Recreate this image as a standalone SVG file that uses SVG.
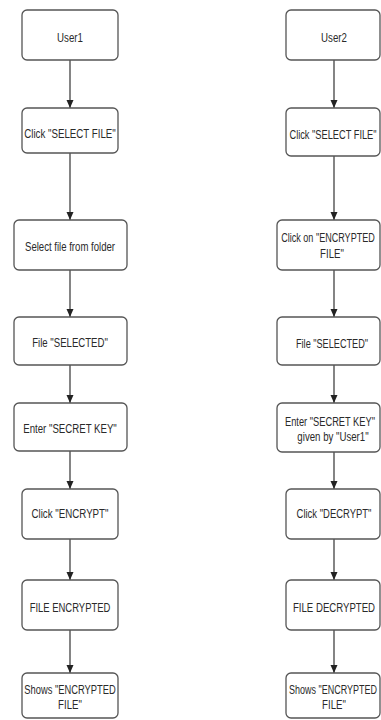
<svg xmlns="http://www.w3.org/2000/svg" width="381" height="720" viewBox="0 0 381 720">
<style>
.box{fill:#fff;stroke:#555;stroke-width:1.3}
.t{font-family:"Liberation Sans",Arial,sans-serif;font-size:13px;fill:#2a2a2a;text-anchor:middle}
.c{stroke:#333;stroke-width:1.2;fill:none;marker-end:url(#ah)}
</style>
<defs>
<marker id="ah" markerUnits="userSpaceOnUse" markerWidth="8" markerHeight="8" refX="8" refY="3.5" orient="auto">
<path d="M0,0 L8,3.5 L0,7 z" fill="#222"/>
</marker>
</defs>
<rect width="381" height="720" fill="#fff"/>
<g id="connectors">
<line class="c" x1="70" y1="60" x2="70" y2="108"/>
<line class="c" x1="70" y1="153" x2="70" y2="220"/>
<line class="c" x1="70" y1="270" x2="70" y2="317"/>
<line class="c" x1="70" y1="365" x2="70" y2="403"/>
<line class="c" x1="70" y1="451" x2="70" y2="489"/>
<line class="c" x1="70" y1="539" x2="70" y2="580"/>
<line class="c" x1="70" y1="630" x2="70" y2="673"/>
<line class="c" x1="334" y1="60" x2="334" y2="108"/>
<line class="c" x1="334" y1="156" x2="334" y2="220"/>
<line class="c" x1="334" y1="270" x2="334" y2="317"/>
<line class="c" x1="334" y1="365" x2="334" y2="403"/>
<line class="c" x1="334" y1="452" x2="334" y2="489"/>
<line class="c" x1="334" y1="539" x2="334" y2="580"/>
<line class="c" x1="334" y1="630" x2="334" y2="673"/>
</g>
<g id="n_user1"><rect class="box" x="22" y="10" width="96" height="50" rx="5"/><text class="t" transform="translate(70,42) scale(0.72,1)" textLength="36" lengthAdjust="spacingAndGlyphs">User1</text></g>
<g id="n_l_select"><rect class="box" x="22" y="108" width="96" height="45" rx="5"/><text class="t" transform="translate(70,138) scale(0.72,1)" textLength="127" lengthAdjust="spacingAndGlyphs">Click "SELECT FILE"</text></g>
<g id="n_l_folder"><rect class="box" x="14" y="220" width="113" height="50" rx="5"/><text class="t" transform="translate(70,251) scale(0.72,1)" textLength="125" lengthAdjust="spacingAndGlyphs">Select file from folder</text></g>
<g id="n_l_selected"><rect class="box" x="14" y="317" width="113" height="48" rx="5"/><text class="t" transform="translate(70,347) scale(0.72,1)" textLength="105" lengthAdjust="spacingAndGlyphs">File "SELECTED"</text></g>
<g id="n_l_key"><rect class="box" x="14" y="403" width="113" height="48" rx="5"/><text class="t" transform="translate(70,433) scale(0.72,1)" textLength="130" lengthAdjust="spacingAndGlyphs">Enter "SECRET KEY"</text></g>
<g id="n_l_encrypt"><rect class="box" x="22" y="489" width="96" height="50" rx="5"/><text class="t" transform="translate(70,518) scale(0.72,1)" textLength="107" lengthAdjust="spacingAndGlyphs">Click "ENCRYPT"</text></g>
<g id="n_l_encrypted"><rect class="box" x="22" y="580" width="96" height="50" rx="5"/><text class="t" transform="translate(70,612) scale(0.72,1)" textLength="112" lengthAdjust="spacingAndGlyphs">FILE ENCRYPTED</text></g>
<g id="n_l_shows"><rect class="box" x="22" y="673" width="96" height="45" rx="5"/><text class="t" transform="translate(70,694) scale(0.72,1)" textLength="127" lengthAdjust="spacingAndGlyphs">Shows "ENCRYPTED</text><text class="t" transform="translate(70,709) scale(0.72,1)" textLength="33" lengthAdjust="spacingAndGlyphs">FILE"</text></g>
<g id="n_user2"><rect class="box" x="286" y="10" width="94" height="50" rx="5"/><text class="t" transform="translate(334,42) scale(0.72,1)" textLength="36" lengthAdjust="spacingAndGlyphs">User2</text></g>
<g id="n_r_select"><rect class="box" x="286" y="108" width="94" height="48" rx="5"/><text class="t" transform="translate(333,139) scale(0.72,1)" textLength="121" lengthAdjust="spacingAndGlyphs">Click "SELECT FILE"</text></g>
<g id="n_r_clickon"><rect class="box" x="277" y="220" width="103" height="50" rx="5"/><text class="t" transform="translate(328,242) scale(0.72,1)" textLength="130" lengthAdjust="spacingAndGlyphs">Click on "ENCRYPTED</text><text class="t" transform="translate(332,258) scale(0.72,1)" textLength="33" lengthAdjust="spacingAndGlyphs">FILE"</text></g>
<g id="n_r_selected"><rect class="box" x="277" y="317" width="103" height="48" rx="5"/><text class="t" transform="translate(332,348) scale(0.72,1)" textLength="100" lengthAdjust="spacingAndGlyphs">File "SELECTED"</text></g>
<g id="n_r_key"><rect class="box" x="277" y="403" width="103" height="49" rx="5"/><text class="t" transform="translate(330,426) scale(0.72,1)" textLength="125" lengthAdjust="spacingAndGlyphs">Enter "SECRET KEY"</text><text class="t" transform="translate(333,441) scale(0.72,1)" textLength="99" lengthAdjust="spacingAndGlyphs">given by "User1"</text></g>
<g id="n_r_decrypt"><rect class="box" x="286" y="489" width="94" height="50" rx="5"/><text class="t" transform="translate(334,518) scale(0.72,1)" textLength="104" lengthAdjust="spacingAndGlyphs">Click "DECRYPT"</text></g>
<g id="n_r_decrypted"><rect class="box" x="286" y="580" width="94" height="50" rx="5"/><text class="t" transform="translate(334,612) scale(0.72,1)" textLength="114" lengthAdjust="spacingAndGlyphs">FILE DECRYPTED</text></g>
<g id="n_r_shows"><rect class="box" x="286" y="673" width="94" height="45" rx="5"/><text class="t" transform="translate(333,694) scale(0.72,1)" textLength="122" lengthAdjust="spacingAndGlyphs">Shows "ENCRYPTED</text><text class="t" transform="translate(334,709) scale(0.72,1)" textLength="33" lengthAdjust="spacingAndGlyphs">FILE"</text></g>
</svg>
